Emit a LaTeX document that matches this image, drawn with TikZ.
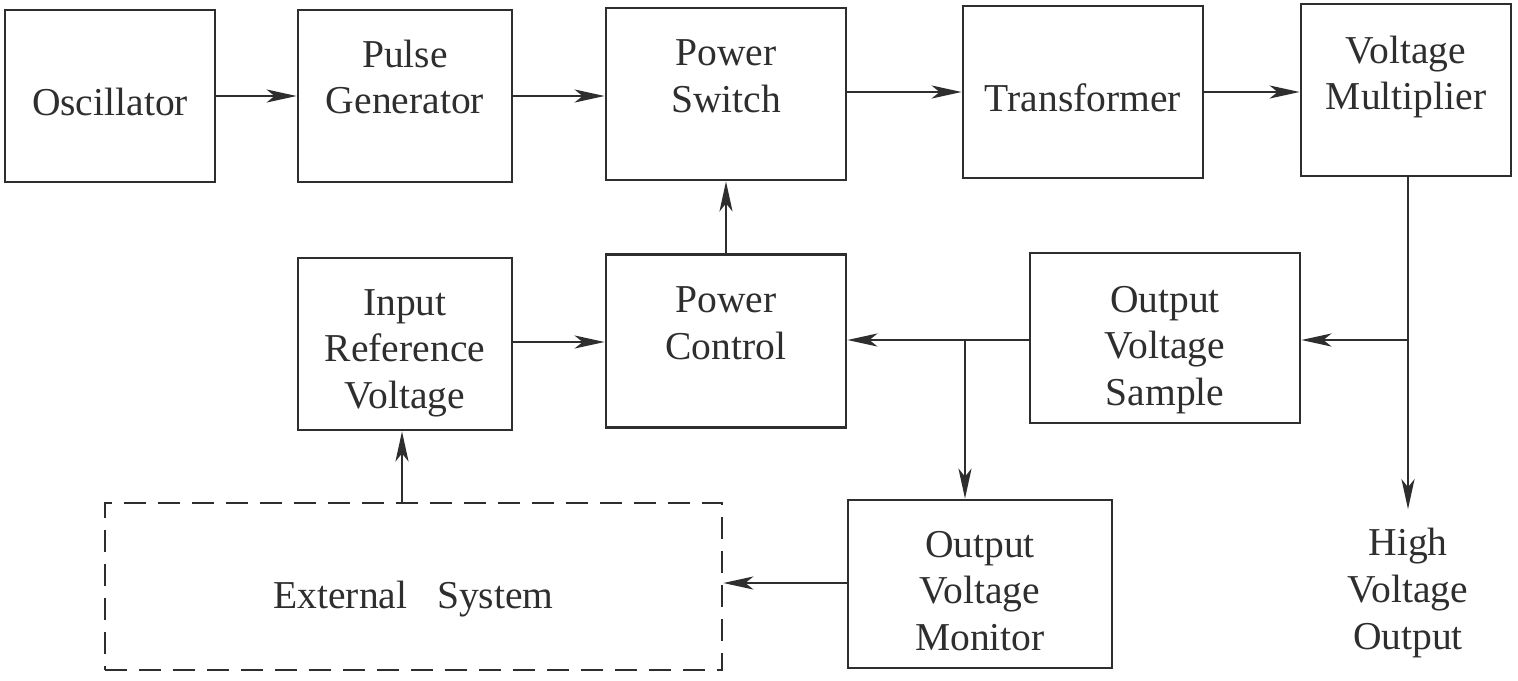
\documentclass[tikz,border=0pt]{standalone}
\usepackage{fontspec}
\setmainfont{Liberation Serif}
\usetikzlibrary{arrows.meta}
\begin{document}
\begin{tikzpicture}[x=0.02cm,y=-0.02cm,
  lbl/.style={text=black!82, align=center, font=\fontsize{22.5}{26.5}\selectfont},
  blk/.style={draw=black!82, line width=1.6pt, inner sep=0pt},
  dashblk/.style={blk, dash pattern=on 0.44cm off 0.24cm},
  txt/.style 2 args={label={[lbl, yshift=#1]center:#2}},
  arr/.style={draw=black!82, line width=1.6pt, -{Stealth[length=0.6cm,width=0.26cm,inset=0.16cm]}},
  ln/.style={draw=black!82, line width=1.6pt}]
\useasboundingbox (0,0) rectangle (1518,680);
\node[blk, minimum width=4.2cm, minimum height=3.44cm, txt={-0.12cm}{Oscillator}] (osc) at (110,96) {};
\node[blk, minimum width=4.28cm, minimum height=3.44cm, txt={0.38cm}{Pulse\\Generator}] (pg) at (405,96) {};
\node[blk, minimum width=4.8cm, minimum height=3.44cm, txt={0.36cm}{Power\\Switch}] (ps) at (726,94) {};
\node[blk, minimum width=4.8cm, minimum height=3.44cm, txt={-0.12cm}{Transformer}] (tr) at (1083,92) {};
\node[blk, minimum width=4.2cm, minimum height=3.44cm, txt={0.26cm}{Voltage\\Multiplier}] (vm) at (1406,90) {};
\node[blk, minimum width=4.28cm, minimum height=3.44cm, txt={-0.18cm}{Input\\Reference\\Voltage}] (irv) at (405,344) {};
\node[blk, minimum width=4.8cm, minimum height=3.46cm, txt={0.36cm}{Power\\Control}] (pc) at (726,341) {};
\node[blk, minimum width=5.4cm, minimum height=3.4cm, txt={-0.24cm}{Output\\Voltage\\Sample}] (ovs) at (1165,338) {};
\node[dashblk, minimum width=12.34cm, minimum height=3.34cm, txt={-0.26cm}{External\hspace{0.5em} System}] (ext) at (413.5,586.5) {};
\node[blk, minimum width=5.28cm, minimum height=3.36cm, txt={-0.14cm}{Output\\Voltage\\Monitor}] (ovm) at (980,584) {};
\node[lbl, inner sep=4pt, outer sep=7pt] (hvo) at (1408,593) {High\\Voltage\\Output};
\coordinate (j) at (965,340);
\coordinate (b) at (1408,340);
\coordinate (e) at (402,0);
\coordinate (ry) at (0,342);
\coordinate (my) at (0,583);
\draw[arr] (osc.east) -- (osc.east -| pg.west);
\draw[arr] (pg.east) -- (pg.east -| ps.west);
\draw[arr] (ps.east |- tr.west) -- (tr.west);
\draw[arr] (tr.east) -- (tr.east -| vm.west);
\draw[arr] (pc.north) -- (ps.south);
\draw[arr] (irv.east |- ry) -- (pc.west |- ry);
\draw[ln] (vm.south -| b) -- (b);
\draw[arr] (b) -- (hvo.north);
\draw[arr] (b) -- (b -| ovs.east);
\draw[arr] (ovs.west |- j) -- (pc.east |- j);
\draw[arr] (j) -- (j |- ovm.north);
\draw[arr] (ovm.west |- my) -- (ext.east |- my);
\draw[arr] (ext.north -| e) -- (irv.south -| e);
\end{tikzpicture}
\end{document}
